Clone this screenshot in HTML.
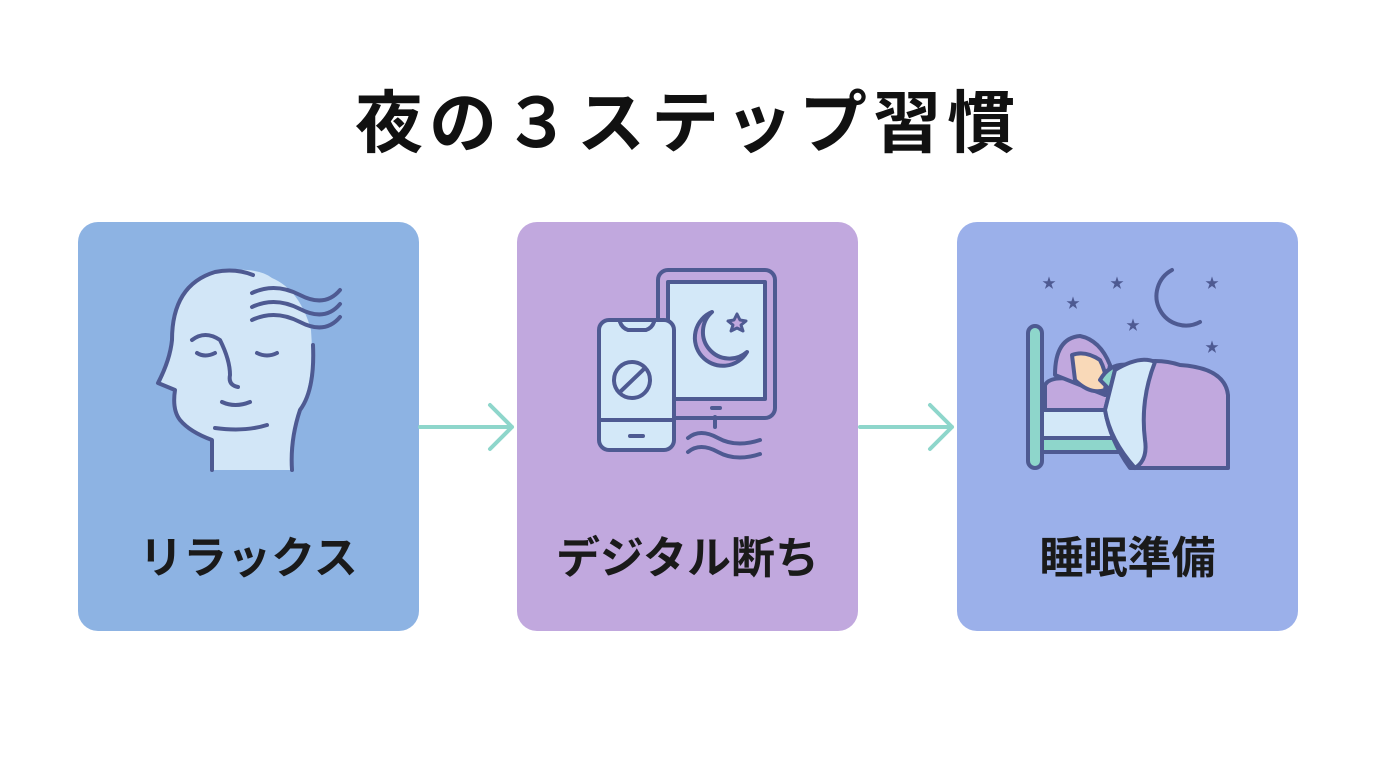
<!DOCTYPE html>
<html><head><meta charset="utf-8"><style>
body{margin:0;width:1376px;height:768px;background:#fff;position:relative;overflow:hidden;font-family:"Liberation Sans","Noto Sans CJK JP",sans-serif}
.t{position:absolute;left:0;width:1376px;top:68px;text-align:center;font-size:68px;font-weight:700;color:#111;letter-spacing:6px}
.c{position:absolute;top:222px;height:409px;width:341px;border-radius:20px}
.l{position:absolute;top:522px;width:341px;text-align:center;font-size:44px;font-weight:700;color:#1a1a1a}
svg{position:absolute;left:0;top:0}
</style></head><body>
<div class="t">夜の３ステップ習慣</div>
<div class="c" style="left:78px;background:#8db3e3"></div>
<div class="c" style="left:517px;background:#c1a8de"></div>
<div class="c" style="left:957px;background:#9bb0ea"></div>
<div class="l" style="left:78px">リラックス</div>
<div class="l" style="left:517px">デジタル断ち</div>
<div class="l" style="left:957px">睡眠準備</div>
<svg width="1376" height="768" fill="none" stroke="#4e5a92" stroke-width="4" stroke-linecap="round" stroke-linejoin="round">
<g stroke="#8ed6cb" stroke-width="4"><path d="M420 427H512M490 405L512 427L490 449"/><path d="M860 427H952M930 405L952 427L930 449"/></g>
<path d="M212 470V440Q190 432 180 420Q172 400 175 390L160 385Q170 360 172 340Q172 280 228 270Q260 268 272 278Q300 290 311 330Q315 380 300 410Q290 440 292 470Z" fill="#d2e6f7" stroke="none"/>
<path d="M253 275Q235 268 215 272Q172 285 172 340Q170 360 158 383L175 390Q172 410 180 420Q190 432 212 440V470"/>
<path d="M313 345Q315 390 300 410Q290 440 292 470"/>
<path d="M252 293Q275 282 300 295T340 290M252 307Q275 296 300 309T340 304M252 320Q275 309 300 322T340 317"/>
<path d="M192 340Q205 330 220 340Q230 360 230 375Q228 385 238 387"/>
<path d="M197 353Q205 358 215 353M257 353Q267 358 277 353M222 402Q235 408 250 402M215 428Q245 432 267 425"/>
<rect x="658" y="270" width="117" height="148" rx="10" fill="#c1a8de"/>
<rect x="668" y="282" width="97" height="117" fill="#d3e8f8"/>
<path d="M715 417V427M712 408H720"/>
<path d="M712 312A28 28 0 1 0 747 352A22 22 0 0 1 712 312Z" fill="#c1a8de"/>
<path d="M737 314L740 320L746 321L741 325L743 331L737 328L731 331L733 325L728 321L734 320Z" fill="#c1a8de" stroke-width="3"/>
<rect x="599" y="320" width="75" height="130" rx="10" fill="#d3e8f8"/>
<path d="M620 322Q622 328 628 330H646Q652 328 654 322M599 420H674M630 436H643" />
<circle cx="632" cy="380" r="18"/><path d="M620 392L645 368"/>
<path d="M688 438Q700 428 718 438T760 440M688 452Q700 442 718 452T760 454"/>
<path d="M1172 270A26 26 0 1 0 1200 322A21 21 0 0 1 1172 270Z" fill="#d3e8f8"/>
<g fill="#4e5a92" stroke="none" font-size="14"><text x="1042" y="288">★</text><text x="1110" y="288">★</text><text x="1205" y="288">★</text><text x="1066" y="308">★</text><text x="1126" y="330">★</text><text x="1205" y="352">★</text></g>
<rect x="1028" y="326" width="14" height="142" rx="7" fill="#8ed6cb"/>
<rect x="1042" y="410" width="80" height="28" fill="#d3e8f8"/>
<rect x="1042" y="438" width="80" height="14" fill="#8ed6cb"/>
<path d="M1045 410V385Q1050 375 1080 380L1110 390V410Z" fill="#c1a8de"/>
<path d="M1055 375Q1055 338 1080 336Q1100 340 1110 365L1105 395Z" fill="#c1a8de"/>
<path d="M1072 355Q1085 350 1100 360Q1108 375 1105 390Q1090 395 1075 380Z" fill="#f9d9b8"/>
<path d="M1100 380Q1110 362 1130 365L1120 400Z" fill="#8ed6cb"/>
<path d="M1115 370Q1150 355 1180 365Q1225 368 1228 395V468H1130Q1110 440 1105 410Z" fill="#c1a8de"/>
<path d="M1115 370Q1140 355 1155 362Q1140 400 1145 440Q1148 460 1135 468Q1110 440 1105 410Z" fill="#d3e8f8"/>
</svg>
</body></html>
